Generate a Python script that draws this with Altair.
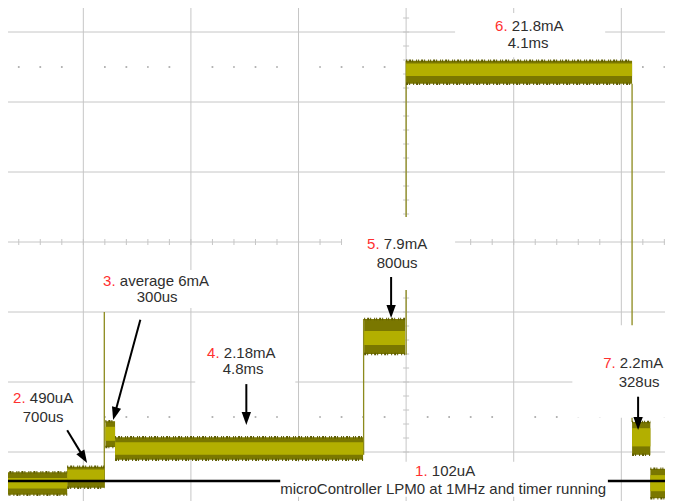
import altair as alt
import pandas as pd
import numpy as np

# ---- units: time in ms (0 = centre graticule line), level in screen divisions (0 = centre line)
X_DOMAIN = [-7.40, 4.812]
Y_DOMAIN = [-3.70, 3.343]

GRID_T = [-6, -4, -2, 0, 2, 4]
GRID_D = [-3, -2, -1, 0, 1, 2, 3]

# ---- trace segments (noisy current bands)
seg_name = ["1", "2", "3", "4", "5", "6", "7", "8"]
seg_t0 = [-7.43, -6.30, -5.59, -5.41, -0.78, 0.00, 4.20, 4.54]
seg_t1 = [-6.30, -5.61, -5.41, -0.80, -0.02, 4.20, 4.54, 4.96]
seg_top = [-3.29, -3.21, -2.56, -2.79, -1.10, 2.59, -2.57, -3.24]
seg_bot = [-3.61, -3.51, -2.93, -3.11, -1.60, 2.26, -3.04, -3.66]
seg_itop = [-3.37, -3.25, -2.64, -2.86, -1.27, 2.55, -2.66, -3.33]
seg_ibot = [-3.52, -3.43, -2.84, -3.04, -1.47, 2.37, -2.92, -3.56]

# ---- thin vertical trace edges / spikes
edge_t = [-5.61, -0.79, 0.00, 4.20]
edge_lo = [-3.51, -3.04, -1.61, -2.57]
edge_hi = [-1.00, -1.10, 2.59, 2.26]

# ---- black reference level line (1. 102uA)
REF_LEVEL = [-3.414]

# ---- white label backgrounds
box_x0 = [0.91, -1.19, -5.69, -3.92, -7.43, 3.09, -2.34]
box_x1 = [3.70, 0.91, -3.36, -2.06, -6.02, 5.10, 3.75]
box_y0 = [3.27, 0.357, -0.40, -1.37, -2.09, -1.19, -3.14]
box_y1 = [2.64, -0.686, -0.943, -2.11, -2.66, -2.51, -3.64]

# ---- labels
lab_num = ["6.", "5.", "3.", "4.", "2.", "7.", "1."]
lab_text = ["21.8mA", "7.9mA", "average 6mA", "2.18mA", "490uA", "2.2mA", "102uA"]
lab_x = [1.654, -0.725, -5.632, -3.699, -7.305, 3.662, 0.167]
lab_y = [3.014, -0.10, -0.629, -1.657, -2.30, -1.80, -3.343]
sub_text = ["4.1ms", "800us", "300us", "4.8ms", "700us", "328us",
            "microController LPM0 at 1MHz and timer running"]
sub_x = [2.268, -0.167, -4.628, -3.030, -6.747, 4.330, 0.688]
sub_y = [2.771, -0.371, -0.857, -1.886, -2.571, -2.071, -3.60]

# ---- arrows (tail -> tip)
arr_x0 = [-6.30, -4.94, -2.97, -0.279, 4.312]
arr_y0 = [-2.69, -1.11, -2.03, -0.50, -2.21]
arr_x1 = [-5.93, -5.446, -2.97, -0.279, 4.312]
arr_y1 = [-3.157, -2.543, -2.614, -1.086, -2.686]

# ---- styles
GRID = "#c6c6c6"
DOT = "#a8a8a8"
DARK = "#7a7700"
EDGE = "#5e5c00"
BRIGHT = "#b3af00"
THIN = "#8c8a1c"
RED = "#ff3030"
INK = "#2e2e2e"
FONT = "Liberation Sans"
PX_PER_MS = 53.8
PX_PER_DIV = 70.0

xs = alt.Scale(domain=X_DOMAIN, nice=False, zero=False)
ys = alt.Scale(domain=Y_DOMAIN, nice=False, zero=False)


def X(f):
    return alt.X(f, type="quantitative", scale=xs, axis=None)


def Y(f):
    return alt.Y(f, type="quantitative", scale=ys, axis=None)


layers = []

# graticule
layers.append(alt.Chart(pd.DataFrame({"x": GRID_T})).mark_rule(color=GRID, strokeWidth=1, clip=True).encode(x=X("x")))
layers.append(alt.Chart(pd.DataFrame({"y": GRID_D})).mark_rule(color=GRID, strokeWidth=1, clip=True).encode(y=Y("y")))

minor_t = [round(v, 2) for v in np.arange(-7.2, 4.81, 0.4)]
minor_d = [round(v, 2) for v in np.arange(-3.6, 3.21, 0.2)]
tx = pd.DataFrame({"x": minor_t, "y0": -0.043, "y1": 0.043})
layers.append(alt.Chart(tx).mark_rule(color=GRID, strokeWidth=1, clip=True).encode(x=X("x"), y=Y("y0"), y2="y1"))
ty = pd.DataFrame({"y": minor_d, "x0": -0.056, "x1": 0.056})
layers.append(alt.Chart(ty).mark_rule(color=GRID, strokeWidth=1, clip=True).encode(y=Y("y"), x=X("x0"), x2="x1"))

dots_t = [v for v in minor_t if abs(v / 2 - round(v / 2)) > 1e-6]
dots = pd.DataFrame({"x": dots_t * 2, "y": [2.5] * len(dots_t) + [-2.5] * len(dots_t)})
layers.append(alt.Chart(dots).mark_square(size=3, color=DOT, opacity=1, clip=True).encode(x=X("x"), y=Y("y")))

# trace
seg = pd.DataFrame({"name": seg_name, "t0": seg_t0, "t1": seg_t1, "top": seg_top,
                    "bot": seg_bot, "itop": seg_itop, "ibot": seg_ibot})
edges = pd.DataFrame({"t": edge_t, "lo": edge_lo, "hi": edge_hi})
layers.append(alt.Chart(edges).mark_rule(color=THIN, strokeWidth=1.3, clip=True).encode(x=X("t"), y=Y("lo"), y2="hi"))
layers.append(alt.Chart(seg).mark_rect(color=DARK, clip=True).encode(x=X("t0"), x2="t1", y=Y("top"), y2="bot"))
layers.append(alt.Chart(seg).mark_rect(color=BRIGHT, clip=True).encode(x=X("t0"), x2="t1", y=Y("itop"), y2="ibot"))
layers.append(alt.Chart(seg).mark_rule(color=EDGE, strokeWidth=2.5, strokeDash=[1, 2, 2, 1, 1, 3, 1, 1],
                                       clip=True).encode(x=X("t0"), x2="t1", y=Y("top")))
layers.append(alt.Chart(seg).mark_rule(color=EDGE, strokeWidth=2.5, strokeDash=[2, 1, 1, 3, 1, 2],
                                       clip=True).encode(x=X("t0"), x2="t1", y=Y("bot")))

# reference line
layers.append(alt.Chart(pd.DataFrame({"y": REF_LEVEL})).mark_rule(color="black", strokeWidth=2.5, clip=True).encode(y=Y("y")))

# label backgrounds
boxes = pd.DataFrame({"x0": box_x0, "x1": box_x1, "y0": box_y0, "y1": box_y1})
layers.append(alt.Chart(boxes).mark_rect(color="white", clip=True).encode(x=X("x0"), x2="x1", y=Y("y0"), y2="y1"))

# labels
lab = pd.DataFrame({"num": lab_num, "text": lab_text, "x": lab_x, "y": lab_y})
layers.append(alt.Chart(lab).mark_text(align="left", baseline="alphabetic", font=FONT, fontSize=15,
                                       color=RED, clip=True).encode(x=X("x"), y=Y("y"), text="num:N"))
layers.append(alt.Chart(lab).mark_text(align="left", baseline="alphabetic", font=FONT, fontSize=15,
                                       color=INK, dx=16.7, clip=True).encode(x=X("x"), y=Y("y"), text="text:N"))
sub = pd.DataFrame({"text": sub_text, "x": sub_x, "y": sub_y})
layers.append(alt.Chart(sub).mark_text(align="center", baseline="alphabetic", font=FONT, fontSize=15,
                                       color=INK, clip=True).encode(x=X("x"), y=Y("y"), text="text:N"))

# arrows
ax0, ay0, ax1, ay1 = map(np.array, (arr_x0, arr_y0, arr_x1, arr_y1))
dxp = (ax1 - ax0) * PX_PER_MS
dyp = -(ay1 - ay0) * PX_PER_DIV
ln = np.hypot(dxp, dyp)
HEAD = 13.0
sx = ax1 - (dxp / ln) * (HEAD * 0.8) / PX_PER_MS
sy = ay1 + (dyp / ln) * (HEAD * 0.8) / PX_PER_DIV
ang = (np.degrees(np.arctan2(-dxp, dyp)) + 360) % 360
arr = pd.DataFrame({"x0": ax0, "y0": ay0, "sx": sx, "sy": sy, "x1": ax1, "y1": ay1, "ang": ang})
layers.append(alt.Chart(arr).mark_rule(color="black", strokeWidth=2, clip=True).encode(
    x=X("x0"), y=Y("y0"), x2="sx", y2="sy"))
layers.append(alt.Chart(arr).mark_point(shape="M0,0L-0.36,-1L0.36,-1Z", filled=True, size=(2 * HEAD) ** 2,
                                        color="black", opacity=1, strokeWidth=0, clip=True).encode(
    x=X("x1"), y=Y("y1"), angle=alt.Angle("ang:Q", scale=None)))

chart = alt.layer(*layers).properties(width=657, height=493, padding=0).configure_view(stroke=None)
chart.save("out.html", embed_options={"renderer": "svg", "actions": False})
